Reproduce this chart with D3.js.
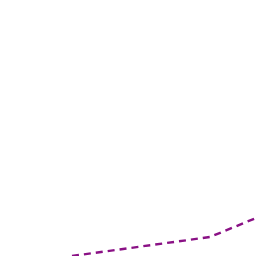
<!DOCTYPE html>
<html>
<head>
<meta charset="utf-8">
<script src="https://cdn.jsdelivr.net/npm/d3@7"></script>
<style>
  body { margin: 0; background: #fff; }
</style>
</head>
<body>
<svg id="chart" width="256" height="256"></svg>
<script>
// Data for the line
let xValues = [0, 3, 4];
let yValues = [0, 19, 38];

let svg = d3.select('#chart');

// Scales
let x = d3.scaleLinear()
    .domain([0, 4])
    .range([72, 256]);

let y = d3.scaleLinear()
    .domain([0, 38])
    .range([256, 218]);

let data = xValues.map((d, i) => ({ x: d, y: yValues[i] }));

let line = d3.line()
    .x((d) => x(d.x))
    .y((d) => y(d.y));

svg.append('path')
    .datum(data)
    .attr('fill', 'none')
    .attr('stroke', '#8a1185')
    .attr('stroke-width', 2.4)
    .attr('stroke-dasharray', '7,5')
    .attr('d', line);
</script>
</body>
</html>
